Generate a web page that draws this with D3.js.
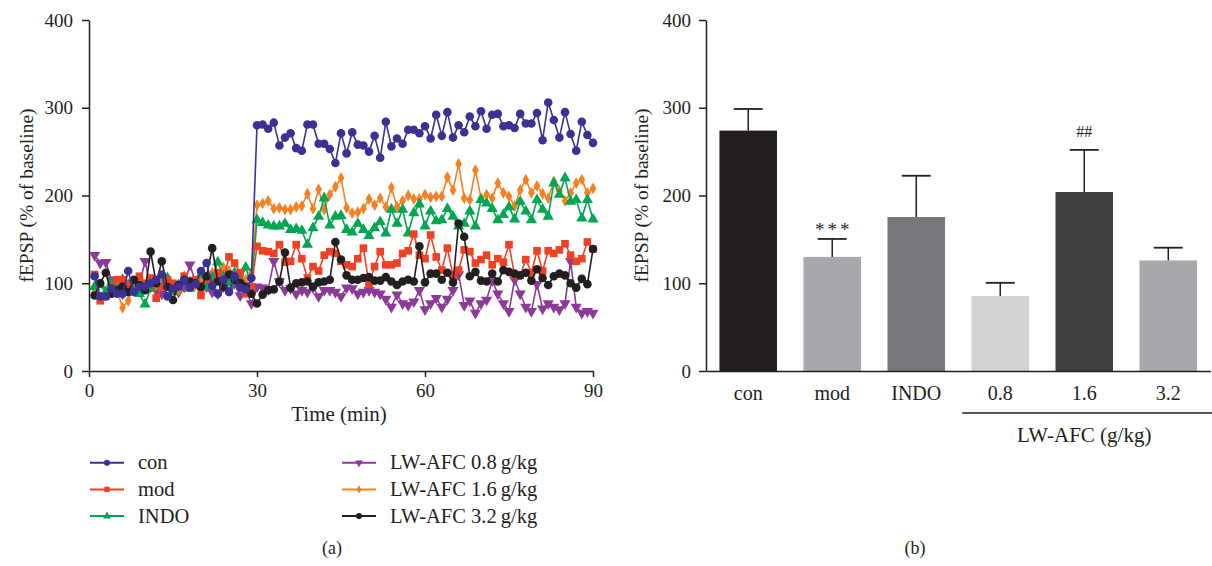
<!DOCTYPE html>
<html>
<head>
<meta charset="utf-8">
<script src="https://cdn.jsdelivr.net/npm/d3@7"></script>
<style>
  body { margin: 0; background: #fff; }
  svg { display: block; font-family: "Liberation Serif", "Times New Roman", serif; }
</style>
</head>
<body>
<svg id="chart" width="1212" height="566"></svg>
<script>
// ---- Data: fEPSP time course (% of baseline), one sample per minute ----
const minutes = d3.range(1, 91);

const conValues = [108,85,85,94,88,88,114,90,96,96,100,104,110,85,94,96,103,95,99,114,123,97,88,104,90,108,95,93,106,
  280,281,276,283,257,266,271,254,251,281,281,259,259,253,237,271,248,272,258,257,250,268,243,284,256,265,259,275,275,271,
  279,265,292,268,295,266,280,272,290,279,296,276,292,293,279,280,277,293,282,282,294,263,306,286,266,295,270,251,284,269,260];

const modValues = [110,80,85,96,104,104,98,92,108,100,106,83,96,104,100,98,108,96,104,86,106,100,112,104,130,123,112,88,96,
  142,137,136,134,144,124,125,144,128,106,119,114,132,136,134,125,121,119,128,140,99,119,136,121,121,123,134,137,156,132,
  128,155,130,115,140,109,115,138,136,123,127,132,121,128,124,144,109,109,127,112,137,114,137,134,138,145,132,125,128,147,139];

const indoValues = [96,98,90,100,92,104,98,100,88,76,94,100,96,106,90,98,102,94,100,110,96,106,124,108,100,112,104,118,96,
  172,169,166,165,165,168,161,162,160,144,163,176,197,166,176,177,161,158,168,161,154,163,170,157,184,168,184,157,180,190,
  165,182,171,172,185,176,165,168,182,165,195,191,185,172,178,187,173,193,182,172,195,184,176,214,201,220,193,195,174,195,173];

const lw08Values = [132,123,124,104,96,88,92,100,98,125,96,92,88,100,96,90,96,121,102,92,96,90,88,96,92,100,86,92,77,
  96,95,93,125,102,92,94,88,92,90,95,85,92,92,90,85,95,94,88,90,92,
  90,88,82,73,87,77,75,79,92,70,77,83,73,82,92,110,75,80,66,77,81,
  103,88,77,68,104,88,73,68,99,71,77,73,70,77,125,73,66,68,66];

const lw16Values = [90,84,88,96,92,72,80,96,100,94,104,98,106,100,96,92,108,102,98,104,100,112,106,118,114,108,110,104,112,
  189,191,194,185,186,184,184,187,188,202,185,207,184,201,210,220,186,180,181,185,196,189,197,187,209,187,194,200,196,196,
  201,198,199,199,221,206,236,197,195,229,197,201,197,214,203,199,188,206,218,203,211,202,197,216,205,194,203,214,218,203,208];

const lw32Values = [86,100,112,88,92,96,90,104,98,92,136,100,125,96,81,98,104,102,100,96,108,140,102,96,110,104,100,96,88,
  77,87,92,93,102,135,95,100,101,102,96,101,102,104,147,127,109,104,104,106,107,103,103,107,102,98,102,104,102,142,
  101,111,111,104,112,101,168,153,108,113,103,102,111,102,115,113,111,109,112,103,116,106,98,108,111,109,100,95,105,99,139];

const seriesLabels = ["con", "mod", "INDO", "LW-AFC 0.8\u2009g/kg", "LW-AFC 1.6\u2009g/kg", "LW-AFC 3.2\u2009g/kg"];
const timeTicks = [0, 30, 60, 90];
const valueTicks = [0, 100, 200, 300, 400];

// ---- Data: mean fEPSP per group with SEM ----
const groups = ["con", "mod", "INDO", "0.8", "1.6", "3.2"];
const groupMeans = [274, 130, 175.5, 85.5, 204, 126];
const groupErrors = [24.6, 20.5, 47, 15, 48, 14.5];
const groupMarks = ["", "***", "", "", "##", ""];

// ---- Styling ----
const ink = "#231f20";
const series = [
  { label: seriesLabels[0], values: conValues,  color: "#3b3192", symbol: d3.symbolCircle,   size: 58, rotate: 0 },
  { label: seriesLabels[1], values: modValues,  color: "#ef4123", symbol: d3.symbolSquare,   size: 58, rotate: 0 },
  { label: seriesLabels[2], values: indoValues, color: "#00a651", symbol: d3.symbolTriangle, size: 54, rotate: 0 },
  { label: seriesLabels[3], values: lw08Values, color: "#8b3a97", symbol: d3.symbolTriangle, size: 54, rotate: 180 },
  { label: seriesLabels[4], values: lw16Values, color: "#f68121", symbol: d3.symbolDiamond,  size: 40, rotate: 0 },
  { label: seriesLabels[5], values: lw32Values, color: "#231f20", symbol: d3.symbolCircle,   size: 58, rotate: 0 }
];
const drawOrder = [3, 4, 2, 1, 5, 0];
const barColors = ["#231f20", "#a7a9ac", "#77787b", "#d1d3d4", "#414042", "#a7a9ac"];

const svg = d3.select("#chart");

function styleAxis(g) {
  g.select(".domain").attr("stroke", ink).attr("stroke-width", 1.5);
  g.selectAll(".tick line").attr("stroke", ink).attr("stroke-width", 1.5);
  g.selectAll(".tick text").attr("fill", ink).style("font-size", "19px")
    .style("font-family", "'Liberation Serif', serif");
}

// ================= Panel (a): time course =================
const x = d3.scaleLinear().domain([0, 90]).range([89, 593]);
const y = d3.scaleLinear().domain([0, 400]).range([371, 20]);

const panelA = svg.append("g");

panelA.append("g")
  .attr("transform", `translate(0,${y(0)})`)
  .call(d3.axisBottom(x).tickValues(timeTicks).tickSize(6).tickSizeOuter(0).tickPadding(6.5))
  .call(styleAxis);

panelA.append("g")
  .attr("transform", `translate(${x(0)},0)`)
  .call(d3.axisLeft(y).tickValues(valueTicks).tickSize(7).tickSizeOuter(0).tickPadding(9))
  .call(styleAxis);

const line = d3.line().x((d, i) => x(minutes[i])).y(d => y(d));

drawOrder.forEach(k => {
  const s = series[k];
  const g = panelA.append("g");
  g.append("path")
    .datum(s.values)
    .attr("d", line)
    .attr("fill", "none")
    .attr("stroke", s.color)
    .attr("stroke-width", 1.6)
    .attr("stroke-linejoin", "round");
  g.selectAll("path.pt")
    .data(s.values)
    .join("path")
    .attr("class", "pt")
    .attr("d", d3.symbol(s.symbol, s.size))
    .attr("transform", (d, i) => `translate(${x(minutes[i])},${y(d)}) rotate(${s.rotate})`)
    .attr("fill", s.color);
});

panelA.append("text")
  .attr("x", (x(0) + x(90)) / 2 - 2)
  .attr("y", 421)
  .attr("text-anchor", "middle")
  .attr("fill", ink)
  .style("font-size", "21px")
  .text("Time (min)");

panelA.append("text")
  .attr("transform", `translate(33,${(y(0) + y(400)) / 2}) rotate(-90)`)
  .attr("text-anchor", "middle")
  .attr("fill", ink)
  .style("font-size", "19.5px")
  .text("fEPSP (% of baseline)");

// Legend: two columns of three entries
const legend = panelA.append("g");
series.forEach((s, i) => {
  const col = Math.floor(i / 3), row = i % 3;
  const lx = col === 0 ? 90 : 342;
  const ly = 462.7 + row * 26.7;
  const g = legend.append("g").attr("transform", `translate(${lx},${ly})`);
  g.append("line").attr("x1", 0).attr("x2", 34).attr("stroke", s.color).attr("stroke-width", 2);
  g.append("path")
    .attr("d", d3.symbol(s.symbol, s.size * 0.5))
    .attr("transform", `translate(17,0) rotate(${s.rotate})`)
    .attr("fill", s.color);
  g.append("text")
    .attr("x", 48).attr("y", 6.5)
    .attr("fill", ink)
    .style("font-size", "20.5px")
    .text(s.label);
});

svg.append("text")
  .attr("x", 332).attr("y", 554)
  .attr("text-anchor", "middle").attr("fill", ink)
  .style("font-size", "18px")
  .text("(a)");

// ================= Panel (b): group means =================
const xb = d3.scaleBand().domain(groups).range([706, 1210.5]).paddingInner(0.315).paddingOuter(0.16);
const yb = d3.scaleLinear().domain([0, 400]).range([371, 20]);

const panelB = svg.append("g");

panelB.selectAll("rect.bar")
  .data(groups)
  .join("rect")
  .attr("class", "bar")
  .attr("x", g => xb(g))
  .attr("width", xb.bandwidth())
  .attr("y", (g, i) => yb(groupMeans[i]))
  .attr("height", (g, i) => yb(0) - yb(groupMeans[i]))
  .attr("fill", (g, i) => barColors[i]);

// upward SEM whiskers
const capHalf = 14.5;
groups.forEach((g, i) => {
  const cx = xb(g) + xb.bandwidth() / 2;
  const top = yb(groupMeans[i] + groupErrors[i]);
  panelB.append("line")
    .attr("x1", cx).attr("x2", cx)
    .attr("y1", yb(groupMeans[i])).attr("y2", top)
    .attr("stroke", ink).attr("stroke-width", 1.5);
  panelB.append("line")
    .attr("x1", cx - capHalf).attr("x2", cx + capHalf)
    .attr("y1", top).attr("y2", top)
    .attr("stroke", ink).attr("stroke-width", 1.8);
  if (groupMarks[i]) {
    const isStar = groupMarks[i].startsWith("*");
    panelB.append("text")
      .attr("x", cx + (isStar ? 1.5 : 0))
      .attr("y", top - (isStar ? 3 : 13))
      .attr("text-anchor", "middle")
      .attr("fill", ink)
      .style("font-size", isStar ? "19px" : "16px")
      .style("letter-spacing", isStar ? "3px" : "0px")
      .text(groupMarks[i]);
  }
});

panelB.append("g")
  .attr("transform", `translate(${xb.range()[0]},0)`)
  .call(d3.axisLeft(yb).tickValues(valueTicks).tickSize(7).tickSizeOuter(0).tickPadding(8))
  .call(styleAxis);

panelB.append("g")
  .attr("transform", `translate(0,${yb(0)})`)
  .call(d3.axisBottom(xb).tickSize(0).tickSizeOuter(0).tickPadding(14.8))
  .call(styleAxis)
  .call(g => g.selectAll(".tick text").style("font-size", "20px"));

// bracket under the LW-AFC dose groups
const bx1 = xb("0.8") - xb.step() * 0.11;
const bx2 = 1212;
panelB.append("line")
  .attr("x1", bx1).attr("x2", bx2)
  .attr("y1", 413).attr("y2", 413)
  .attr("stroke", ink).attr("stroke-width", 1.5);
panelB.append("text")
  .attr("x", xb("1.6") + xb.bandwidth() / 2)
  .attr("y", 442)
  .attr("text-anchor", "middle").attr("fill", ink)
  .style("font-size", "21px")
  .text("LW-AFC (g/kg)");

panelB.append("text")
  .attr("transform", `translate(648,${(yb(0) + yb(400)) / 2}) rotate(-90)`)
  .attr("text-anchor", "middle")
  .attr("fill", ink)
  .style("font-size", "19.5px")
  .text("fEPSP (% of baseline)");

svg.append("text")
  .attr("x", 915).attr("y", 554)
  .attr("text-anchor", "middle").attr("fill", ink)
  .style("font-size", "18px")
  .text("(b)");
</script>
</body>
</html>
